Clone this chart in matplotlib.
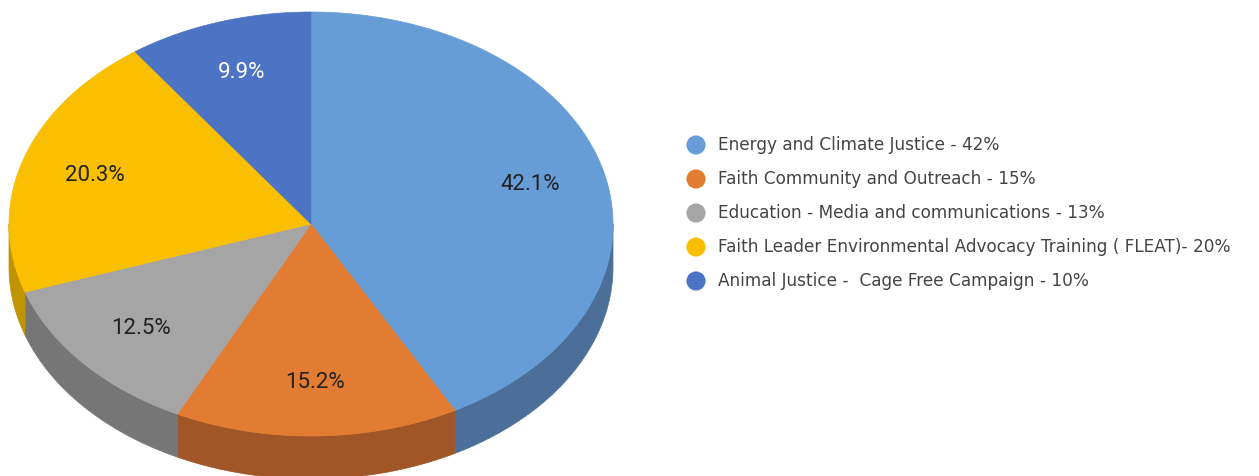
import numpy as np
import matplotlib
matplotlib.use("Agg")
import matplotlib.pyplot as plt
from matplotlib.patches import Polygon

labels = [
    "Energy and Climate Justice - 42%",
    "Faith Community and Outreach - 15%",
    "Education - Media and communications - 13%",
    "Faith Leader Environmental Advocacy Training ( FLEAT)- 20%",
    "Animal Justice -  Cage Free Campaign - 10%",
]
values = [42.1, 15.2, 12.5, 20.3, 9.9]
top_colors = ["#679dd6", "#e27c32", "#a5a5a5", "#f9bf00", "#4c73c4"]
side_colors = ["#4b6f98", "#a05626", "#767676", "#c09300", "#3a5a99"]
label_colors = ["#222222", "#222222", "#222222", "#222222", "#ffffff"]

# pie geometry in pixel units
cx, cy = 311, 224
rx, ry = 302, 212
depth = 43
label_r = 0.75

fig = plt.figure(figsize=(12.59, 4.76), dpi=100)
ax = fig.add_axes([0, 0, 1, 1])
ax.set_xlim(0, 1259)
ax.set_ylim(476, 0)
ax.axis("off")


def pt(theta, dy=0.0):
    return cx + rx * np.sin(theta), cy - ry * np.cos(theta) + dy


fracs = np.array(values) / sum(values)
starts = np.concatenate([[0], np.cumsum(fracs)[:-1]]) * 2 * np.pi
ends = np.cumsum(fracs) * 2 * np.pi

# side walls (front half only)
for s, e, col in zip(starts, ends, side_colors):
    a, b = max(s, np.pi / 2), min(e, 3 * np.pi / 2)
    if a >= b:
        continue
    t = np.linspace(a, b, 200)
    xs, ys = pt(t)
    xb, yb = pt(t[::-1], depth)
    poly = np.column_stack([np.concatenate([xs, xb]), np.concatenate([ys, yb])])
    ax.add_patch(Polygon(poly, closed=True, facecolor=col, edgecolor=col, lw=0.5))

# top faces
for s, e, col in zip(starts, ends, top_colors):
    t = np.linspace(s, e, 300)
    xs, ys = pt(t)
    poly = np.column_stack([np.concatenate([[cx], xs]), np.concatenate([[cy], ys])])
    ax.add_patch(Polygon(poly, closed=True, facecolor=col, edgecolor=col, lw=0.5))

# slice labels
for s, e, v, lc in zip(starts, ends, values, label_colors):
    m = (s + e) / 2
    x = cx + rx * label_r * np.sin(m)
    y = cy - ry * label_r * np.cos(m)
    ax.text(x, y, f"{v:.1f}%", ha="center", va="center", fontsize=16,
            family="Roboto", color=lc)

# legend
for i, (lab, col) in enumerate(zip(labels, top_colors)):
    y = 145 + i * 34
    ax.scatter([696], [y], s=190, color=col, edgecolors="none")
    ax.text(718, y, lab, ha="left", va="center", fontsize=12.2,
            family="DejaVu Sans", color="#444444")

fig.savefig("out.png", dpi=100)
